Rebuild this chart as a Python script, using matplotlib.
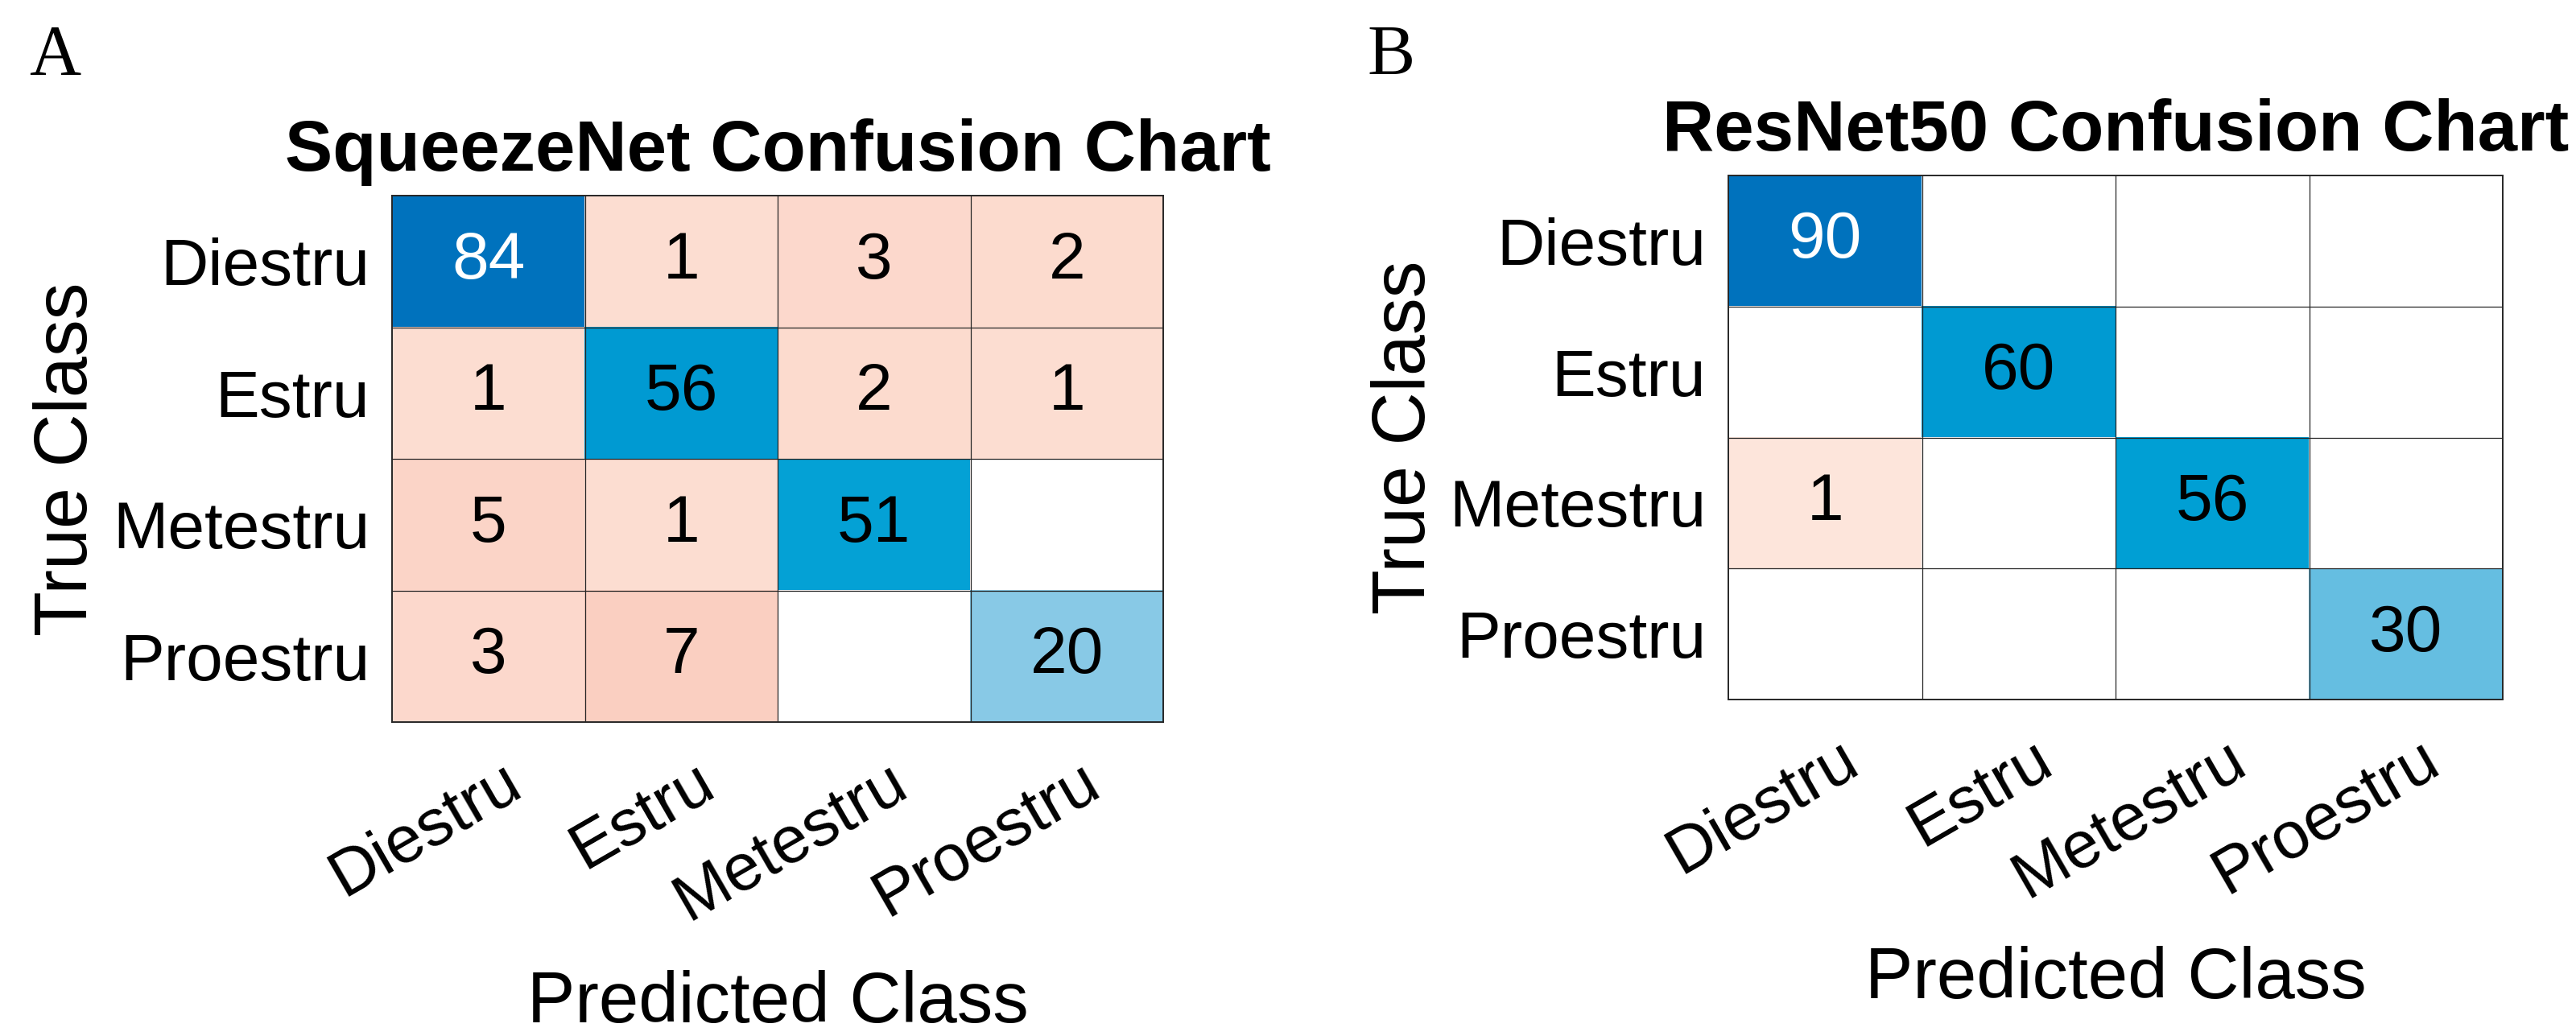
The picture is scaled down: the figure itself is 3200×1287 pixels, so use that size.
import numpy as np
import matplotlib
matplotlib.use('Agg')
import matplotlib.pyplot as plt
from matplotlib.colors import LinearSegmentedColormap
from matplotlib.transforms import ScaledTranslation

# ---------------- data ----------------
classes = ['Diestru', 'Estru', 'Metestru', 'Proestru']
squeeze_cm = np.array([[84, 1, 3, 2],
                       [1, 56, 2, 1],
                       [5, 1, 51, 0],
                       [3, 7, 0, 20]])
resnet_cm = np.array([[90, 0, 0, 0],
                      [0, 60, 0, 0],
                      [1, 0, 56, 0],
                      [0, 0, 0, 30]])
titles = ['SqueezeNet Confusion Chart', 'ResNet50 Confusion Chart']
panel_letters = ['A', 'B']
xlabel = 'Predicted Class'
ylabel = 'True Class'

# ---------------- style ----------------
plt.rcParams['font.family'] = ['Liberation Sans', 'DejaVu Sans']
DPI = 100
fig = plt.figure(figsize=(32, 12.87), dpi=DPI)

def c255(r, g, b):
    return (r / 255, g / 255, b / 255)

diag_cmap = LinearSegmentedColormap.from_list(
    'diag', [(0.0, c255(255, 255, 255)), (0.24, c255(134, 200, 230)),
             (0.62, c255(0, 160, 213)), (1.0, c255(0, 114, 189))])
off_cmap = LinearSegmentedColormap.from_list(
    'off', [(0.0, c255(255, 255, 255)), (0.01, c255(253, 222, 210)),
            (0.09, c255(250, 206, 192)), (1.0, c255(217, 83, 25))])

axes_rects = [
    (487 / 3200, 1 - 897 / 1287, (1445 - 487) / 3200, (897 - 243) / 1287),
    (2147 / 3200, 1 - 869 / 1287, (3109 - 2147) / 3200, (869 - 218) / 1287),
]
letter_pos = [(36 / 3200, 1 - 92 / 1287), (1698 / 3200, 1 - 92 / 1287)]
ylabel_x = [-0.3956, -0.392]

for k, cm in enumerate([squeeze_cm, resnet_cm]):
    ax = fig.add_axes(axes_rects[k])
    n = cm.shape[0]
    vmax = cm.max()
    rgb = np.ones((n, n, 3))
    for i in range(n):
        for j in range(n):
            v = cm[i, j]
            if v == 0:
                continue
            cmap = diag_cmap if i == j else off_cmap
            rgb[i, j] = cmap(v / vmax)[:3]
    ax.imshow(rgb, extent=(-0.5, n - 0.5, n - 0.5, -0.5), aspect='auto',
              interpolation='nearest')
    for b in np.arange(0.5, n - 0.5, 1.0):
        ax.axhline(b, color='#262626', lw=0.9)
        ax.axvline(b, color='#262626', lw=0.9)
    for i in range(n):
        for j in range(n):
            v = cm[i, j]
            if v == 0:
                continue
            col = rgb[i, j]
            lum = 0.299 * col[0] + 0.587 * col[1] + 0.114 * col[2]
            tc = 'white' if lum < 0.38 else 'black'
            ax.text(j, i, str(v), ha='center', va='center', fontsize=59,
                    color=tc)
    ax.set_xlim(-0.5, n - 0.5)
    ax.set_ylim(n - 0.5, -0.5)
    for s in ax.spines.values():
        s.set_color('#262626')
        s.set_linewidth(1.4)
    ax.set_yticks(range(n))
    ax.set_yticklabels(classes, fontsize=59)
    ax.set_xticks(range(n))
    ax.set_xticklabels(classes, fontsize=59, rotation=30, ha='right',
                       va='top', rotation_mode='anchor')
    ax.tick_params(axis='both', length=0)
    ax.tick_params(axis='y', pad=20)
    ax.tick_params(axis='x', pad=26)
    off = ScaledTranslation(16 / DPI, 0, fig.dpi_scale_trans)
    for lab in ax.get_xticklabels():
        lab.set_transform(lab.get_transform() + off)
    ax.set_title(titles[k], fontsize=64, fontweight='bold', pad=22)
    ax.set_xlabel(xlabel, fontsize=64, va='baseline')
    ax.xaxis.set_label_coords(0.5, -0.570)
    ax.set_ylabel(ylabel, fontsize=66, va='baseline')
    ax.yaxis.set_label_coords(ylabel_x[k], 0.5)
    fig.text(letter_pos[k][0], letter_pos[k][1], panel_letters[k],
             fontsize=64, family=['Liberation Serif', 'DejaVu Serif'],
             va='baseline', ha='left')

fig.savefig('out.png', dpi=DPI)
